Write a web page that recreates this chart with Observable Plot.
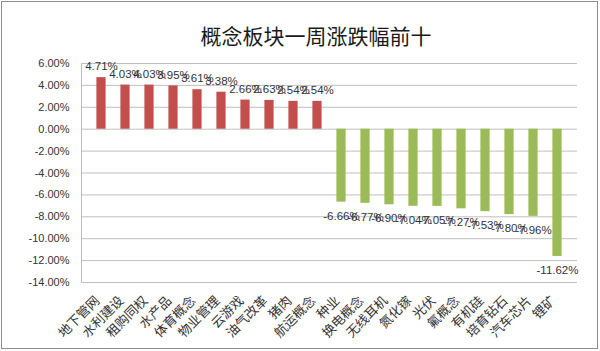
<!DOCTYPE html>
<html>
<head>
<meta charset="utf-8">
<script src="https://cdn.jsdelivr.net/npm/d3@7"></script>
<script src="https://cdn.jsdelivr.net/npm/@observablehq/plot@0.6"></script>
<style>
  html, body { margin: 0; padding: 0; background: #fff; }
  #wrap { position: relative; width: 600px; height: 351px; overflow: hidden; }
  #title { position: absolute; top: 25px; left: 316px; transform: translateX(-50%);
    font-family: "Noto Sans CJK SC", sans-serif; font-size: 21px; line-height: 1; color: #1a1a1a; white-space: nowrap; }
  #border { position: absolute; left: 1px; top: 1px; width: 595px; height: 346px; border: 1px solid #8c8c8c; pointer-events: none; }
</style>
</head>
<body>
<div id="wrap">
  <div id="chart"></div>
  <div id="title">概念板块一周涨跌幅前十</div>
  <div id="border"></div>
</div>
<script>
const categories = ["地下管网","水利建设","租购同权","水产品","体育概念","物业管理","云游戏","油气改革","猪肉","航运概念",
  "种业","换电概念","无线耳机","氮化镓","光伏","氟概念","有机硅","培育钻石","汽车芯片","锂矿"];
const values = [4.71, 4.03, 4.03, 3.95, 3.61, 3.38, 2.66, 2.63, 2.54, 2.54,
  -6.66, -6.77, -6.90, -7.04, -7.05, -7.27, -7.53, -7.80, -7.96, -11.62];
const yTicks = [6, 4, 2, 0, -2, -4, -6, -8, -10, -12, -14];

const data = categories.map((c, i) => ({name: c, value: values[i]}));
const pos = data.filter(d => d.value >= 0);
const neg = data.filter(d => d.value < 0);
const fmt = v => v.toFixed(2) + "%";
const numFont = "Liberation Sans, Arial, sans-serif";
const cjkFont = "Noto Sans CJK SC, sans-serif";

const chart = Plot.plot({
  width: 600,
  height: 351,
  marginLeft: 81,
  marginRight: 23,
  marginTop: 63,
  marginBottom: 69,
  style: {background: "transparent", color: "#333"},
  x: {domain: categories, padding: 0, label: null},
  y: {domain: [-14, 6], label: null},
  marks: [
    Plot.gridY(yTicks, {stroke: "#bfbfbf", strokeOpacity: 1}),
    Plot.frame({anchor: "left", stroke: "#bfbfbf"}),
    Plot.barY(data, {x: "name", y: "value", insetLeft: 7.4, insetRight: 7.4, fill: d => d.value >= 0 ? "#C0504D" : "#9BBB59"}),
    Plot.text(pos, {x: "name", y: "value", text: d => fmt(d.value), dy: -11, fontSize: 11.5, fontFamily: numFont, fill: "#333"}),
    Plot.text(neg, {x: "name", y: "value", text: d => fmt(d.value), dy: 14, fontSize: 11.5, fontFamily: numFont, fill: "#333"}),
    Plot.axisY({ticks: yTicks, tickSize: 0, tickPadding: 12, tickFormat: fmt, fontSize: 11, fontFamily: numFont, label: null}),
    Plot.axisX({tickSize: 0, tickPadding: 16, dx: -4, tickRotate: -45, fontSize: 13, fontFamily: cjkFont, label: null})
  ]
});
document.getElementById("chart").appendChild(chart);
</script>
</body>
</html>
